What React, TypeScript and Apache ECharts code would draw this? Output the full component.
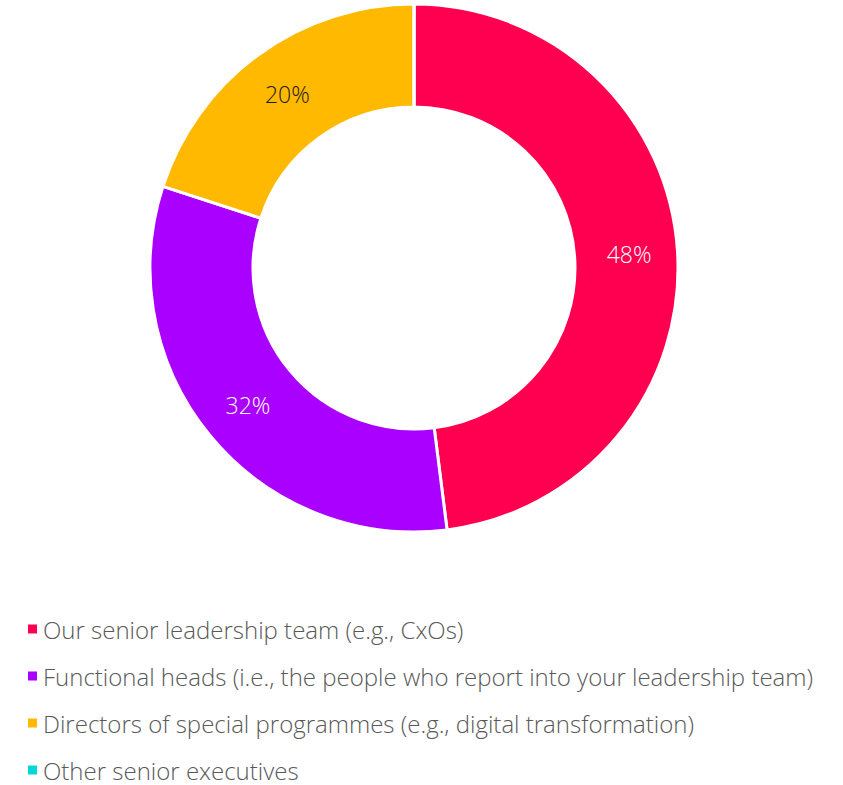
import React, { useEffect, useRef } from "react";
import * as echarts from "echarts";

const categories = [
  "Our senior leadership team (e.g., CxOs)",
  "Functional heads (i.e., the people who report into your leadership team)",
  "Directors of special programmes (e.g., digital transformation)",
  "Other senior executives",
];
const values = [48, 32, 20, 0];
const colors = ["#FF0050", "#AA00FF", "#FFB900", "#00D8D8"];
const labelColors = ["#FFFFFF", "#FFFFFF", "#1A1A1A", "#1A1A1A"];

export default function App() {
  const ref = useRef<HTMLDivElement>(null);
  useEffect(() => {
    if (!ref.current) return;
    const chart = echarts.init(ref.current, undefined, { renderer: "svg" });
    const font = "'Open Sans', sans-serif";
    chart.setOption({
      animation: false,
      legend: {
        orient: "vertical",
        left: 21,
        top: 612,
        height: 175,
        itemWidth: 11,
        itemHeight: 11,
        itemGap: 23,
        icon: "rect",
        textStyle: { color: "#595959", fontSize: 24, lineHeight: 24, fontFamily: font, fontWeight: 300 },
        data: categories,
      },
      series: [
        {
          type: "pie",
          center: [414, 268],
          radius: [161, 264],
          startAngle: 90,
          clockwise: true,
          avoidLabelOverlap: false,
          itemStyle: { borderColor: "#FFFFFF", borderWidth: 3 },
          label: {
            show: true,
            position: "inside",
            formatter: "{c}%",
            fontSize: 23,
            fontFamily: font,
            fontWeight: 300,
          },
          labelLine: { show: false },
          data: categories.map((name, i) => ({
            name,
            value: values[i],
            itemStyle: { color: colors[i] },
            label: { color: labelColors[i], show: values[i] > 0 },
          })),
        },
      ],
    });
    return () => chart.dispose();
  }, []);
  return (
    <div
      ref={ref}
      style={{ position: "absolute", left: 0, top: 0, width: 843, height: 785, background: "#FFFFFF" }}
    />
  );
}
